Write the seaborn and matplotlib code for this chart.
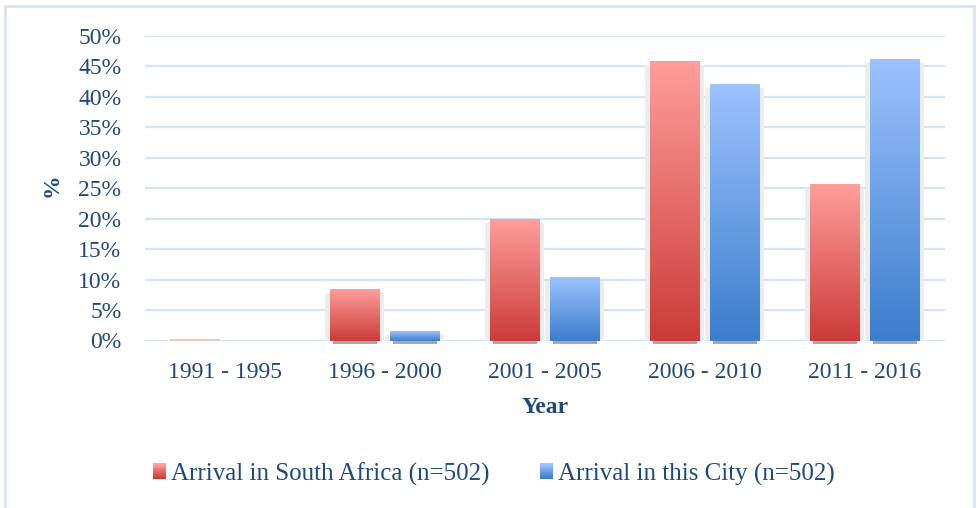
import numpy as np
import pandas as pd
import matplotlib
matplotlib.use('Agg')
import matplotlib.pyplot as plt
import seaborn as sns
from matplotlib.patches import Rectangle, Patch
from matplotlib.colors import LinearSegmentedColormap
from matplotlib.legend_handler import HandlerBase
from matplotlib.ticker import FuncFormatter

# values (percent of respondents)
periods = ["1991 - 1995", "1996 - 2000", "2001 - 2005", "2006 - 2010", "2011 - 2016"]
south_africa = [0.2, 8.4, 20.0, 45.9, 25.7]
this_city = [0.0, 1.5, 10.4, 42.1, 46.2]
series = ["Arrival in South Africa (n=502)", "Arrival in this City (n=502)"]

TEXT = "#1F497D"
GRID = "#D6E3F3"
RED_TOP, RED_BOT = "#FF9E9B", "#CC3B37"
BLUE_TOP, BLUE_BOT = "#9CC2FF", "#3C7DCC"


class GradientHandler(HandlerBase):
    # legend key drawn as a vertical gradient (light on top)
    def __init__(self, top, bot):
        super().__init__()
        self.cmap = LinearSegmentedColormap.from_list("k", [bot, top])

    def create_artists(self, legend, orig_handle, xdescent, ydescent,
                       width, height, fontsize, trans):
        n = 16
        out = []
        for k in range(n):
            out.append(Rectangle((-xdescent, -ydescent + height * k / n),
                                 width, height / n * 1.05,
                                 facecolor=self.cmap(k / (n - 1)),
                                 edgecolor="none", transform=trans))
        return out


df = pd.DataFrame({
    "period": periods * 2,
    "pct": south_africa + this_city,
    "series": [series[0]] * len(periods) + [series[1]] * len(periods),
})

sns.set_style("white")
plt.rcParams["font.family"] = ["Liberation Serif", "DejaVu Serif"]

fig = plt.figure(figsize=(9.79, 5.08), dpi=100)
W, H = 979, 508
ax = fig.add_axes([145 / W, 1 - 340.5 / H, 800 / W, 304.5 / H])

sns.barplot(data=df, x="period", y="pct", hue="series", order=periods,
            hue_order=series, palette=[RED_BOT, BLUE_BOT], width=0.76, gap=0.18,
            legend=False, ax=ax, zorder=3)

# px per data unit, used for the soft shadow offsets
px_x = 800 / len(periods)
px_y = 304.5 / 50

bars = list(ax.patches)
for i, bar in enumerate(bars):
    top, bot = (RED_TOP, RED_BOT) if i < len(periods) else (BLUE_TOP, BLUE_BOT)
    x0, w, h = bar.get_x(), bar.get_width(), bar.get_height()
    bar.set_edgecolor("none")
    if h <= 0:
        continue
    cmap = LinearSegmentedColormap.from_list("g", [bot, top])
    if h < 1:
        # hairline bar, only a faint tint shows
        bar.set_facecolor("#F4C4C2")
        continue
    # soft shadow behind bar
    ax.add_patch(Rectangle((x0 - 5 / px_x, 0), w + 9 / px_x, h - 4 / px_y,
                           facecolor="#EDEDED", edgecolor="none", zorder=2))
    ax.add_patch(Rectangle((x0 + 3 / px_x, -3 / px_y), w - 6 / px_x, 2.5 / px_y,
                           facecolor="#A8A8A8", edgecolor="none", zorder=2,
                           clip_on=False))
    grad = np.linspace(1, 0, 256).reshape(-1, 1)
    ax.imshow(grad, cmap=cmap, aspect="auto", extent=(x0, x0 + w, 0, h),
              zorder=4, interpolation="bicubic")

ax.set_ylim(0, 50)
ax.set_xlim(-0.5, len(periods) - 0.5)

ax.set_yticks(np.arange(0, 51, 5))
ax.yaxis.set_major_formatter(FuncFormatter(lambda v, p: f"{v:.0f}%"))
ax.grid(axis="y", color=GRID, linewidth=1.6, zorder=0)
ax.grid(axis="x", visible=False)
ax.set_axisbelow(True)
for s in ax.spines.values():
    s.set_visible(False)

ax.tick_params(axis="y", length=0, pad=17, labelsize=17, labelcolor=TEXT)
ax.tick_params(axis="x", length=0, pad=15.5, labelsize=17, labelcolor=TEXT)

ax.set_xlabel("Year", fontsize=17, fontweight="bold", color=TEXT)
ax.set_ylabel("%", fontsize=17, fontweight="bold", color=TEXT)
ax.xaxis.set_label_coords(0.5, (340.5 - 397) / 304.5)
ax.yaxis.set_label_coords((63 - 145) / 800, (340.5 - 185) / 304.5)

handles = [Patch(facecolor=RED_BOT), Patch(facecolor=BLUE_BOT)]
leg = fig.legend(handles, series, loc="center", bbox_to_anchor=(494 / W, 1 - 474 / H),
                 ncol=2, frameon=False, fontsize=18, handlelength=0.52,
                 handleheight=0.6, handletextpad=0.22, columnspacing=2.0,
                 handler_map={handles[0]: GradientHandler(RED_TOP, RED_BOT),
                              handles[1]: GradientHandler(BLUE_TOP, BLUE_BOT)})
for t in leg.get_texts():
    t.set_color(TEXT)

# outer chart frame
fig.patches.append(Rectangle((5 / W, -0.05), 969 / W, 1.05 - 6 / H,
                             transform=fig.transFigure, fill=False,
                             edgecolor="#D9E4F3", linewidth=2))

fig.savefig("out.png", dpi=100)
